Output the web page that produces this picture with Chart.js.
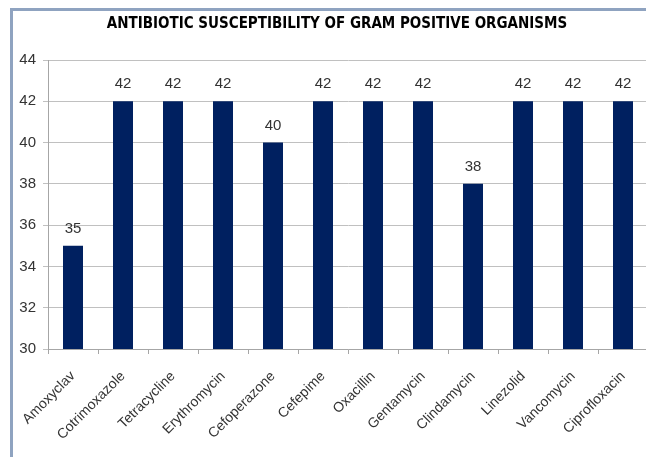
<!DOCTYPE html>
<html>
<head>
<meta charset="utf-8">
<script src="https://cdn.jsdelivr.net/npm/chart.js@4/dist/chart.umd.min.js"></script>
<style>
  html, body { margin: 0; padding: 0; background: #fff; overflow: hidden; }
  #wrap { position: relative; width: 662px; height: 457px; }
  canvas { display: block; }
</style>
</head>
<body>
<div id="wrap"><canvas id="chart" width="662" height="457"></canvas></div>
<script>
// Antibiotics tested and number of susceptible gram positive isolates
const antibiotics = ['Amoxyclav', 'Cotrimoxazole', 'Tetracycline', 'Erythromycin', 'Cefoperazone',
  'Cefepime', 'Oxacillin', 'Gentamycin', 'Clindamycin', 'Linezolid', 'Vancomycin', 'Ciprofloxacin'];
const susceptible = [35, 42, 42, 42, 40, 42, 42, 42, 38, 42, 42, 42];
const yTicks = [30, 32, 34, 36, 38, 40, 42, 44];
const chartTitle = 'ANTIBIOTIC SUSCEPTIBILITY OF GRAM POSITIVE ORGANISMS';

const BAR = '#002060';
const TEXT = '#333333';
const BASE_FONT = "'Liberation Sans', Arial, sans-serif";

// Blue-grey frame along the top and left edges, plus the centred title
const framePlugin = {
  id: 'frame',
  beforeDraw(chart) {
    const ctx = chart.ctx;
    ctx.save();
    ctx.fillStyle = '#ffffff';
    ctx.fillRect(0, 0, chart.width, chart.height);
    ctx.strokeStyle = '#8fa3c0';
    ctx.lineWidth = 3;
    ctx.beginPath();
    ctx.moveTo(11.5, chart.height);
    ctx.lineTo(11.5, 9.5);
    ctx.lineTo(chart.width, 9.5);
    ctx.stroke();
    ctx.fillStyle = '#000000';
    ctx.font = "bold 15px 'Liberation Sans Narrow', 'DejaVu Sans Condensed', sans-serif";
    ctx.textAlign = 'center';
    ctx.textBaseline = 'middle';
    ctx.fillText(chartTitle, 337, 24);
    ctx.restore();
  }
};

// Value printed above each bar
const valueLabels = {
  id: 'valueLabels',
  afterDatasetsDraw(chart) {
    const ctx = chart.ctx;
    const meta = chart.getDatasetMeta(0);
    ctx.save();
    ctx.fillStyle = TEXT;
    ctx.font = '15px ' + BASE_FONT;
    ctx.textAlign = 'center';
    ctx.textBaseline = 'alphabetic';
    meta.data.forEach((bar, i) => {
      ctx.fillText(String(susceptible[i]), bar.x, bar.y - 13);
    });
    ctx.restore();
  }
};

new Chart(document.getElementById('chart'), {
  type: 'bar',
  data: {
    labels: antibiotics,
    datasets: [{
      data: susceptible,
      backgroundColor: BAR,
      borderWidth: 0,
      categoryPercentage: 1,
      barPercentage: 0.4
    }]
  },
  options: {
    responsive: false,
    animation: false,
    devicePixelRatio: 1,
    layout: { padding: { top: 60, left: 0, right: 14, bottom: 0 } },
    plugins: {
      legend: { display: false },
      title: { display: false },
      tooltip: { enabled: false }
    },
    scales: {
      x: {
        offset: true,
        grid: {
          offset: true,
          drawOnChartArea: false,
          drawTicks: true,
          tickLength: 5,
          color: '#a6a6a6'
        },
        border: { display: true, color: '#a6a6a6' },
        ticks: {
          color: TEXT,
          font: { family: BASE_FONT, size: 14 },
          minRotation: 45,
          maxRotation: 45,
          autoSkip: false,
          padding: 14
        },
        afterFit(scale) { scale.height = 108; }
      },
      y: {
        min: 30,
        max: 44,
        afterBuildTicks(scale) { scale.ticks = yTicks.map(v => ({ value: v })); },
        grid: {
          color: '#c0c0c0',
          drawTicks: true,
          tickLength: 5
        },
        border: { display: true, color: '#a6a6a6' },
        ticks: {
          color: TEXT,
          font: { family: BASE_FONT, size: 15 },
          padding: 7
        },
        afterFit(scale) { scale.width = 48; }
      }
    }
  },
  plugins: [framePlugin, valueLabels]
});
</script>
</body>
</html>
